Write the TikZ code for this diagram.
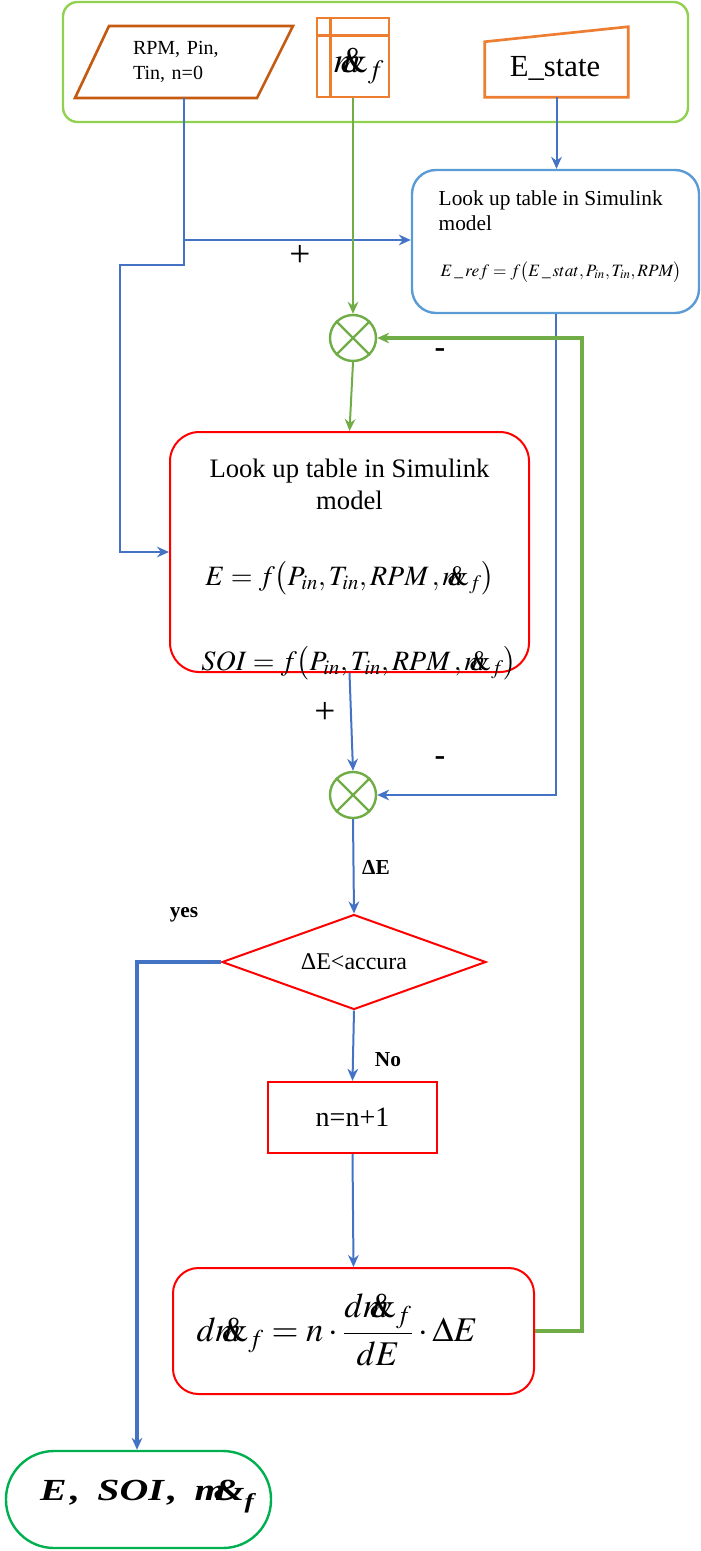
\documentclass[tikz,border=0pt]{standalone}
\usepackage{mathptmx}
\usepackage{graphicx}
\usepackage{fontspec}
\setmainfont{Liberation Serif}
\usetikzlibrary{shapes.geometric,arrows.meta,calc}
\definecolor{cblue}{HTML}{4472C4}
\definecolor{cbox}{HTML}{5B9BD5}
\definecolor{cgreen}{HTML}{70AD47}
\definecolor{clgreen}{HTML}{92D050}
\definecolor{cred}{HTML}{FF0000}
\definecolor{corange}{HTML}{ED7D31}
\definecolor{cbrown}{HTML}{C55A11}
\definecolor{cterm}{HTML}{00B050}
\newcommand{\mfl}{{m\mkern-10mu\&}_{f}}
\newcommand{\fsz}[2]{\fontsize{#1}{#2}\selectfont}
\begin{document}
\begin{tikzpicture}[x=0.75pt,y=-0.75pt,
  conn/.style={draw=cblue, line width=1.5pt, -{Stealth[length=9pt,width=8pt]}},
  gconn/.style={draw=cgreen, line width=1.5pt, -{Stealth[length=9pt,width=8pt]}},
  sumj/.style={circle, draw=cgreen, line width=1.8pt, minimum size=34.5pt, inner sep=0pt},
  redbox/.style={draw=cred, line width=1.5pt, rounded corners=22pt},
  lbl/.style={font=\fsz{16}{19}\bfseries},
  sgn/.style={font=\fsz{28}{32}},
  msgn/.style={font=\fsz{24}{28}\bfseries},
]
\useasboundingbox (0,0) rectangle (700,1551);
% top group
\node[draw=clgreen, line width=1.8pt, rounded corners=11pt, minimum width=468.75pt, minimum height=90pt] (top) at (375.5,62) {};
\draw[cbrown, line width=2pt] (75,98) -- (109,26) -- (293,26) -- (257,98) -- cycle;
\node[text width=76.5pt, align=left, minimum height=54pt, inner sep=0pt, font=\fsz{15}{18.75}] (inp) at (184,62) {RPM, Pin,\\Tin, n=0};
% internal storage
\node[draw=corange, line width=2pt, minimum width=54pt, minimum height=59.25pt, inner sep=0pt] (mf) at (353,57.5) {};
\draw[corange, line width=2pt] ($(mf.north west)+(0,19)$) -- ($(mf.north east)+(0,19)$);
\draw[corange, line width=2pt] ($(mf.north west)+(15,0)$) -- ($(mf.south west)+(15,0)$);
\node[font=\fsz{27}{30}] (mftxt) at (359,66) {$\mfl$};
% manual input
\node[minimum width=107.25pt, minimum height=52.5pt, inner sep=0pt] (est) at (556.5,62) {};
\draw[corange, line width=2pt] (est.south west) -- ($(est.north west)+(0,15)$) -- (est.north east) -- (est.south east) -- cycle;
\node[font=\fsz{23}{28}] (esttxt) at (555,68) {E\_state};
% blue lookup box
\node[draw=cbox, line width=1.8pt, rounded corners=18pt, minimum width=215.25pt, minimum height=107.25pt] (lut1) at (555.5,241.5) {};
\node[anchor=west, align=left, font=\fsz{16}{18.75}] (lut1txt) at (434,211) {Look up table in Simulink\\model};
\node[anchor=west, font=\fsz{13}{16}] (lut1eq) at (436,272) {$E\,\_\,ref = f\bigl(E\,\_\,stat, P_{in}, T_{in}, RPM\bigr)$};
% summing junctions
\node[sumj] (s1) at (353,338) {};
\draw[cgreen, line width=1.8pt] (s1.north west) -- (s1.south east) (s1.north east) -- (s1.south west);
\node[sumj] (s2) at (353,795) {};
\draw[cgreen, line width=1.8pt] (s2.north west) -- (s2.south east) (s2.north east) -- (s2.south west);
% red lookup box
\node[redbox, minimum width=269.25pt, minimum height=180pt] (lut2) at (349.5,552) {};
\node[font=\fsz{20}{24}, align=center] (lut2txt) at (349.5,484) {Look up table in Simulink\\model};
\node[font=\fsz{21}{25}] (eqE) at (350,578) {$E = f\bigl(P_{in}, T_{in}, RPM\,, \mfl\bigr)$};
\node[font=\fsz{21}{25}] (eqS) at (359,663) {$SOI = f\bigl(P_{in}, T_{in}, RPM\,, \mfl\bigr)$};
% decision
\node[diamond, aspect=2.78, draw=cred, line width=1.5pt, minimum width=198pt, minimum height=71.25pt, inner sep=0pt, font=\fsz{18}{21}] (dia) at (354,962) {ΔE<accura};
% counter
\node[draw=cred, line width=1.8pt, minimum width=126.75pt, minimum height=53.25pt, font=\fsz{21}{24}] (nb) at (352.5,1117.5) {n=n+1};
% update box
\node[redbox, rounded corners=19pt, minimum width=270.75pt, minimum height=94.5pt] (upd) at (353.5,1331) {};
\node[font=\fsz{26}{30}] (updeq) at (337,1330) {$\displaystyle d\mfl = n\cdot\frac{d\mfl}{dE}\cdot\Delta E$};
% terminal
\node[draw=cterm, line width=1.8pt, rounded corners=36pt, minimum width=198.75pt, minimum height=72.75pt] (term) at (138.5,1499.5) {};
\node[font=\fsz{23}{27}\bfseries\itshape, inner sep=0pt] (termtxt) at (147,1497) {\scalebox{1.3}[1]{E\kern2pt,\kern10pt SOI\kern2pt,\kern10pt m\kern-7pt{\&}\raisebox{-6pt}{\fsz{16}{18}f}}};
% connectors
\coordinate (bj) at (184,240);
\coordinate (bk) at (184,265);
\coordinate (bl) at (120,265);
\draw[conn] (inp.south) -- (bk) -- (bl) |- (lut2.west);
\draw[conn] (bj) -- (bj -| lut1.west);
\draw[gconn] (mf.south) -- (s1.north);
\draw[conn] (est.south) -- (est.south |- lut1.north);
\draw[conn] (lut1.south) |- (s2.east);
\coordinate (fb) at (582,1331);
\draw[gconn, line width=2.8pt] (upd.east) -- (fb) |- (s1.east);
\draw[gconn] (s1.south) -- (lut2.north);
\draw[conn] (lut2.south) -- (s2.north);
\draw[conn] (s2.south) -- (dia.north);
\coordinate (yc) at (137,962);
\draw[conn, line width=2.8pt] (dia.west) -- (yc) -- (yc |- term.north);
\draw[conn] (dia.south) -- (nb.north);
\draw[conn] (nb.south) -- (upd.north);
% labels
\node[sgn] (p1) at (300,256) {+};
\node[msgn] (m1) at (440,353) {-};
\node[sgn] (p2) at (325,713) {+};
\node[msgn] (m2) at (440,761) {-};
\node[lbl] (yes) at (184,915) {yes};
\node[lbl] (no) at (388,1060) {No};
\node[lbl] (dE) at (376,867) {ΔE};
\end{tikzpicture}
\end{document}
